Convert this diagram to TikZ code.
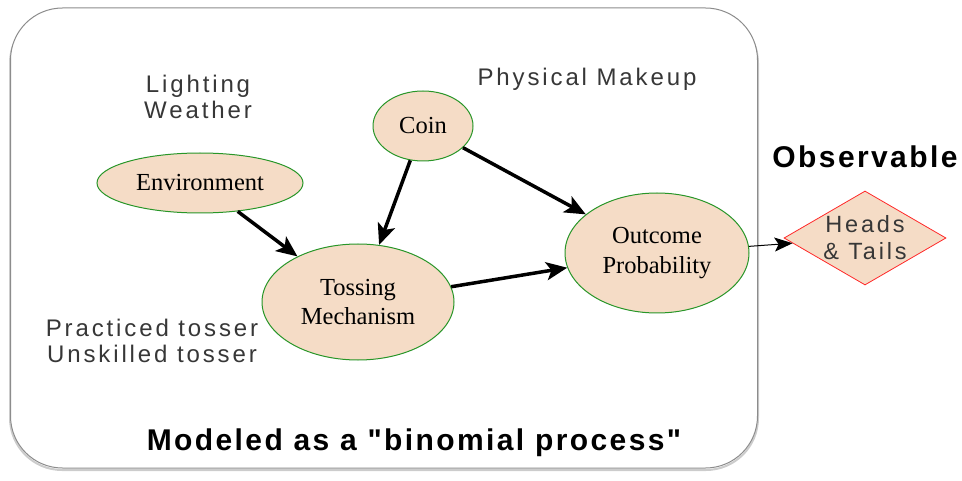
\documentclass[tikz,border=0pt]{standalone}
\usepackage{fontspec}
\setmainfont{Liberation Serif}
\newfontfamily\lblfont[LetterSpace=12]{Liberation Sans}
\newfontfamily\boldlbl[LetterSpace=8]{Liberation Sans}
\usetikzlibrary{shapes.geometric,arrows.meta}
\definecolor{peach}{RGB}{245,220,198}
\definecolor{edgegreen}{RGB}{40,150,40}
\definecolor{edgered}{RGB}{255,40,40}
\definecolor{lblgray}{RGB}{55,55,55}
\definecolor{boxgray}{RGB}{140,140,140}
\tikzset{
  var/.style={ellipse, draw=edgegreen, fill=peach, line width=1pt, inner sep=0pt, align=center,
    font=\fontsize{24.5}{29.5}\selectfont},
  lbl/.style={align=center, text=lblgray, font=\lblfont\fontsize{24}{26.5}\selectfont},
  htl/.style={align=center, text=lblgray, font=\lblfont\fontsize{23.5}{27}\selectfont},
  big/.style={font=\boldlbl\bfseries\fontsize{30}{34}\selectfont, text=black},
  arr/.style={line width=3.5pt, -{Stealth[length=21pt,width=18pt,inset=5pt]}},
  thinarr/.style={line width=1pt, -{Stealth[length=18pt,width=14pt,inset=4pt]}},
}
\begin{document}
\begin{tikzpicture}[x=1pt,y=-1pt]
\useasboundingbox (0,0) rectangle (962,481);
% frame
\draw[draw=black!20, line width=2pt, rounded corners=52pt] (10,11) rectangle (758,470);
\node[draw=boxgray, fill=white, line width=1pt, rounded corners=52pt, minimum width=747pt, minimum height=460pt, inner sep=0pt] (frame) at (384,238) {};
% variables
\node[var, minimum width=206pt, minimum height=60pt] (env) at (200,183) {Environment};
\node[var, minimum width=100pt, minimum height=70pt] (coin) at (423,126) {Coin};
\node[var, minimum width=192pt, minimum height=116pt] (toss) at (358,302) {Tossing\\Mechanism};
\node[var, minimum width=184pt, minimum height=120pt] (out) at (657,253) {Outcome\\Probability};
\node[diamond, draw=edgered, fill=peach, line width=0.8pt, inner sep=0pt, aspect=1.72,
  minimum width=162pt, minimum height=94pt,
  label={[htl, name=htlbl]center:Heads\\\& Tails}] (ht) at (865,238) {};
% labels
\node[lbl] (lw) at (198,97) {Lighting\\Weather};
\node[lbl] (pm) at (587,79) {Physical Makeup};
\node[lbl] (pt) at (152,341) {Practiced tosser\\Unskilled tosser};
\node[big] (obs) at (865,157) {Observable};
\node[big] (mod) at (414,443) {Modeled as a "binomial process"};
% connectors
\draw[arr] (env) -- (toss);
\draw[arr] (coin) -- (toss);
\draw[arr] (coin) -- (out);
\draw[arr] (toss) -- (out);
\draw[thinarr] (out) -- (ht);
\end{tikzpicture}
\end{document}
